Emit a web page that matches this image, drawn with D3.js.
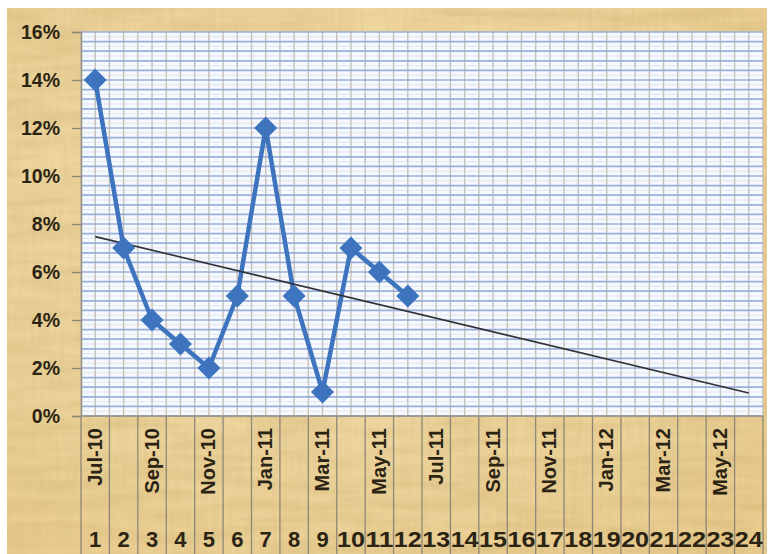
<!DOCTYPE html>
<html>
<head>
<meta charset="utf-8">
<script src="https://cdn.jsdelivr.net/npm/d3@7"></script>
<style>
  html, body { margin: 0; padding: 0; background: #ffffff; }
  svg { display: block; }
</style>
</head>
<body>
<script>
// Monthly rate, Jul-10 .. Jun-11 (periods 1..12); periods 13..24 still open
const periods = d3.range(1, 25);
const monthLabels = ["Jul-10", "", "Sep-10", "", "Nov-10", "", "Jan-11", "", "Mar-11", "", "May-11", "",
                     "Jul-11", "", "Sep-11", "", "Nov-11", "", "Jan-12", "", "Mar-12", "", "May-12", ""];
const rates = [0.14, 0.07, 0.04, 0.03, 0.02, 0.05, 0.12, 0.05, 0.01, 0.07, 0.06, 0.05];
const yTicks = [0, 0.02, 0.04, 0.06, 0.08, 0.10, 0.12, 0.14, 0.16];

const W = 774, H = 554;
const plot = { left: 81, right: 763, top: 32, bottom: 416 };

const svg = d3.select("body").append("svg").attr("width", W).attr("height", H);
const defs = svg.append("defs");

// parchment texture
const tex = defs.append("filter").attr("id", "paper").attr("x", 0).attr("y", 0).attr("width", 1).attr("height", 1);
tex.append("feTurbulence").attr("type", "fractalNoise").attr("baseFrequency", "0.012 0.09")
  .attr("numOctaves", 3).attr("seed", 7).attr("result", "n1");
tex.append("feColorMatrix").attr("in", "n1").attr("type", "matrix")
  .attr("values", "0 0 0 0 0.55  0 0 0 0 0.38  0 0 0 0 0.12  0 0 0 0.55 -0.18").attr("result", "c1");
tex.append("feTurbulence").attr("type", "fractalNoise").attr("baseFrequency", "0.25 0.02")
  .attr("numOctaves", 2).attr("seed", 3).attr("result", "n2");
tex.append("feColorMatrix").attr("in", "n2").attr("type", "matrix")
  .attr("values", "0 0 0 0 0.6  0 0 0 0 0.45  0 0 0 0 0.2  0 0 0 0.35 -0.12").attr("result", "c2");
tex.append("feMerge").call(m => { m.append("feMergeNode").attr("in", "c1"); m.append("feMergeNode").attr("in", "c2"); });

const bgGrad = defs.append("radialGradient").attr("id", "bgGrad").attr("cx", "45%").attr("cy", "40%").attr("r", "75%");
bgGrad.append("stop").attr("offset", "0%").attr("stop-color", "#f3e0b0");
bgGrad.append("stop").attr("offset", "100%").attr("stop-color", "#e9cc8e");

svg.append("rect").attr("x", 7).attr("y", 8).attr("width", 760).attr("height", 546).attr("fill", "url(#bgGrad)");
svg.append("rect").attr("x", 7).attr("y", 8).attr("width", 760).attr("height", 546)
  .attr("fill", "#ffffff").attr("filter", "url(#paper)");

// scales
const x = d3.scaleBand().domain(periods).range([plot.left, plot.right]).padding(0);
const bw = x.bandwidth();
const cx = d => x(d) + bw / 2;
const y = d3.scaleLinear().domain([0, 0.16]).range([plot.bottom, plot.top]);

// plot area
svg.append("rect").attr("x", plot.left).attr("y", plot.top)
  .attr("width", plot.right - plot.left).attr("height", plot.bottom - plot.top)
  .attr("fill", "#f6f9fe");

const grid = svg.append("g");
// faint in-between horizontal lines
grid.selectAll("line.hl").data(d3.range(0.002, 0.16, 0.004)).join("line")
  .attr("x1", plot.left).attr("x2", plot.right)
  .attr("y1", d => y(d)).attr("y2", d => y(d))
  .attr("stroke", "#e2e7ef").attr("stroke-width", 1);
// vertical lines at every half period
const halfSteps = d3.range(0, periods.length * 2 + 1).map(i => plot.left + i * bw / 2);
grid.selectAll("line.v").data(halfSteps).join("line")
  .attr("x1", d => d).attr("x2", d => d)
  .attr("y1", plot.top).attr("y2", plot.bottom)
  .attr("stroke", "#c8c1b6").attr("stroke-width", 1.4);
// blue horizontal lines
grid.selectAll("line.h").data(d3.range(0, 0.1601, 0.004)).join("line")
  .attr("x1", plot.left).attr("x2", plot.right)
  .attr("y1", d => y(d)).attr("y2", d => y(d))
  .attr("stroke", "#98aedb").attr("stroke-width", 1.7);

// y axis
const yAxis = svg.append("g").attr("transform", `translate(${plot.left},0)`)
  .call(d3.axisLeft(y).tickValues(yTicks).tickFormat(d3.format(".0%")).tickSize(9).tickPadding(12));
yAxis.select(".domain").attr("stroke", "#9a9080").attr("stroke-width", 1.5);
yAxis.selectAll(".tick line").attr("stroke", "#8f8575").attr("stroke-width", 1.3);
yAxis.selectAll(".tick text")
  .attr("font-family", "'Liberation Sans', Arial, sans-serif").attr("font-weight", "bold")
  .attr("font-size", 19.5).attr("fill", "#2b2414");

// category axis: divider lines and two label rows
const xAxis = svg.append("g");
xAxis.selectAll("line.div").data(d3.range(0, periods.length + 1)).join("line")
  .attr("x1", i => plot.left + i * bw).attr("x2", i => plot.left + i * bw)
  .attr("y1", plot.bottom).attr("y2", H)
  .attr("stroke", "#8f8777").attr("stroke-width", 1.3);
xAxis.append("line").attr("x1", plot.left).attr("x2", plot.right)
  .attr("y1", plot.bottom).attr("y2", plot.bottom).attr("stroke", "#9a9080").attr("stroke-width", 1.5);

xAxis.selectAll("text.m").data(periods).join("text")
  .attr("transform", d => `translate(${cx(d) + 6.5},428) rotate(-90)`)
  .attr("text-anchor", "end")
  .attr("font-family", "'Liberation Sans', Arial, sans-serif").attr("font-weight", "bold")
  .attr("font-size", 20).attr("fill", "#2b2414")
  .text((d, i) => monthLabels[i]);

xAxis.selectAll("text.n").data(periods).join("text")
  .attr("x", d => cx(d)).attr("y", 547)
  .attr("text-anchor", "middle")
  .attr("font-family", "'Liberation Sans', Arial, sans-serif").attr("font-weight", "bold")
  .attr("font-size", 22).attr("fill", "#2b2414")
  .attr("textLength", d => d >= 10 ? bw - 0.5 : null)
  .attr("lengthAdjust", "spacingAndGlyphs")
  .text(d => d);

// series
const pts = rates.map((v, i) => ({ p: periods[i], v }));
svg.append("path").datum(pts)
  .attr("d", d3.line().x(d => cx(d.p)).y(d => y(d.v)))
  .attr("fill", "none").attr("stroke", "#3d74bd").attr("stroke-width", 4.5)
  .attr("stroke-linejoin", "round");

// linear trend fitted to the observed periods, extended to period 24
const xs = pts.map(d => d.p), ys = pts.map(d => d.v);
const mx = d3.mean(xs), my = d3.mean(ys);
const slope = d3.sum(xs, (xv, i) => (xv - mx) * (ys[i] - my)) / d3.sum(xs, xv => (xv - mx) ** 2);
const icpt = my - slope * mx;
const trendEnds = [periods[0], periods[periods.length - 1]];
svg.append("path").datum(trendEnds)
  .attr("d", d3.line().x(p => cx(p)).y(p => y(icpt + slope * p)))
  .attr("stroke", "#303236").attr("stroke-width", 1.6).attr("fill", "none");

svg.append("g").selectAll("path").data(pts).join("path")
  .attr("transform", d => `translate(${cx(d.p)},${y(d.v)}) rotate(45)`)
  .attr("d", d3.symbol(d3.symbolSquare, 265))
  .attr("fill", "#3d74bd");
</script>
</body>
</html>
